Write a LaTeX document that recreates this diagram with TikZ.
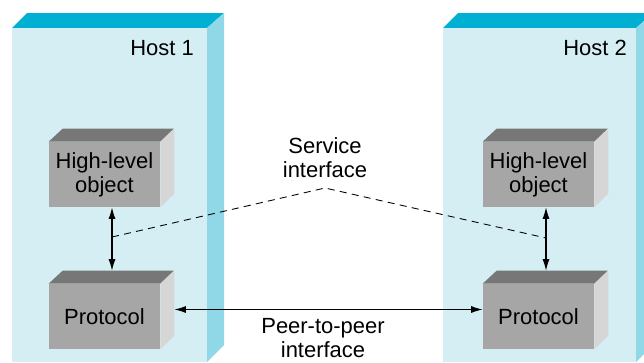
\documentclass[tikz,border=0pt]{standalone}
\usepackage{fontspec}
\setmainfont{Liberation Sans}
\usetikzlibrary{arrows.meta}
\definecolor{hostfront}{HTML}{D5EEF3}
\definecolor{hosttop}{HTML}{00B0D2}
\definecolor{hostside}{HTML}{90D8E8}
\definecolor{boxfront}{HTML}{A6A6A6}
\definecolor{boxtop}{HTML}{777777}
\definecolor{boxside}{HTML}{D6D6D6}
\begin{document}
\begin{tikzpicture}[x=0.02cm,y=-0.02cm,
  txt/.style={align=center,inner sep=0pt,font=\fontsize{12.5}{13.5}\selectfont},
  obj/.style={txt,minimum width=2.22cm,minimum height=1.3cm,fill=boxfront},
  arr/.style={{Latex[length=2.3mm,width=1.4mm]}-{Latex[length=2.3mm,width=1.4mm]},line width=0.6pt},
  iface/.style={dash pattern=on 4pt off 3pt,line width=0.5pt}]
\clip (0,0) rectangle (644,362);
% host 1
\fill[hosttop] (12,28) -- (27,13) -- (224,13) -- (207,28) -- cycle;
\fill[hostside] (207,28) -- (224,13) -- (224,345) -- (207,362) -- cycle;
\fill[hostfront] (12,28) rectangle (207,362);
% host 2
\fill[hosttop] (443,28) -- (458,13) -- (653,13) -- (636,28) -- cycle;
\fill[hostside] (636,28) -- (653,13) -- (653,345) -- (636,362) -- cycle;
\fill[hostfront] (443,28) rectangle (636,362);
\node[txt] (h1) at (162,48) {Host 1};
\node[txt] (h2) at (595,48) {Host 2};
% layers
\node[obj] (hlo1) at (104.5,174.5) {High-level\\object};
\node[obj] (prot1) at (104.5,316.5) {Protocol};
\node[obj] (hlo2) at (538.5,174.5) {High-level\\object};
\node[obj] (prot2) at (538.5,316.5) {Protocol};
\foreach \b in {hlo1,prot1,hlo2,prot2}{
  \fill[boxtop] (\b.north west) -- ++(14,-13) -- ++(111,0) -- (\b.north east) -- cycle;
  \fill[boxside] (\b.north east) -- ++(14,-13) -- ++(0,65) -- (\b.south east) -- cycle;
}
\draw[arr] ([shift={(7.5,0)}]hlo1.south) -- ([shift={(7.5,-13)}]prot1.north);
\draw[arr] ([shift={(7.5,0)}]hlo2.south) -- ([shift={(7.5,-13)}]prot2.north);
\draw[arr] ([shift={(14,-7)}]prot1.east) -- ([shift={(0,-7)}]prot2.west);
% interfaces
\coordinate (d1) at (112,237);
\coordinate (d2) at (546,238);
\coordinate (dtop) at (325,188);
\draw[iface] (d1) -- (dtop) -- (d2);
\node[txt] (si) at (325,158) {Service\\interface};
\node[txt] (pp) at (323,338) {Peer-to-peer\\interface};
\end{tikzpicture}
\end{document}
